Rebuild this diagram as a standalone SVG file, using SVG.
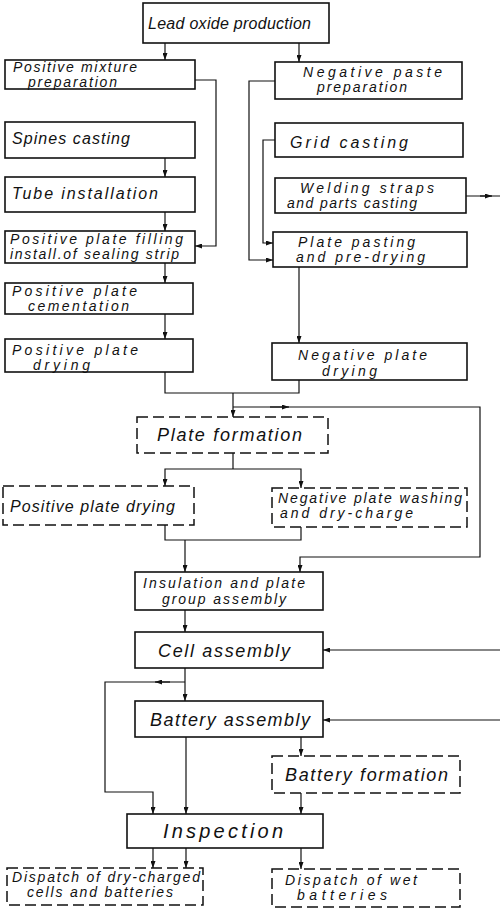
<svg xmlns="http://www.w3.org/2000/svg" width="500" height="909" viewBox="0 0 500 909">
<style>
.b{fill:#fff;stroke:#111;stroke-width:1.6}
.d{fill:#fff;stroke:#111;stroke-width:1.5;stroke-dasharray:11 5}
.c{fill:none;stroke:#111;stroke-width:1.2}
text{font-family:"Liberation Sans",Arial,sans-serif;font-style:italic;font-size:14px;fill:#111}
.s{font-size:16px}
.L{font-size:18px}
.X{font-size:20px}
</style>
<defs>
<marker id="a" viewBox="0 0 7 5" refX="7" refY="2.5" markerWidth="7" markerHeight="5" markerUnits="userSpaceOnUse" orient="auto"><path d="M0,0L7,2.5L0,5z" fill="#111"/></marker>
</defs>
<rect width="500" height="909" fill="#fff"/>
<g id="connectors">
<path class="c" marker-end="url(#a)" d="M165,43V60"/>
<path class="c" marker-end="url(#a)" d="M299,43V62"/>
<path class="c" marker-end="url(#a)" d="M195,80H216V246H195"/>
<path class="c" marker-end="url(#a)" d="M275,81H249V260H273"/>
<path class="c" marker-end="url(#a)" d="M275,140H263V243H273"/>
<path class="c" d="M466,196H500"/>
<path class="c" marker-end="url(#a)" d="M480,196H492"/>
<path class="c" marker-end="url(#a)" d="M165,158V177"/>
<path class="c" marker-end="url(#a)" d="M165,212V231"/>
<path class="c" marker-end="url(#a)" d="M165,263V283"/>
<path class="c" marker-end="url(#a)" d="M165,314V339"/>
<path class="c" marker-end="url(#a)" d="M299,267V343"/>
<path class="c" d="M165,372V393H299V380"/>
<path class="c" marker-end="url(#a)" d="M233,393V417"/>
<path class="c" marker-end="url(#a)" d="M233,407H480V557H300V572"/>
<path class="c" marker-end="url(#a)" d="M270,407H289"/>
<path class="c" d="M233,453V469"/>
<path class="c" marker-end="url(#a)" d="M233,469H165V486"/>
<path class="c" marker-end="url(#a)" d="M233,469H301V488"/>
<path class="c" d="M165,525V540H301V527"/>
<path class="c" marker-end="url(#a)" d="M185,540V572"/>
<path class="c" marker-end="url(#a)" d="M185,610V632"/>
<path class="c" marker-end="url(#a)" d="M185,668V701"/>
<path class="c" marker-end="url(#a)" d="M185,682H105V792H153V814"/>
<path class="c" marker-end="url(#a)" d="M170,682H155"/>
<path class="c" marker-end="url(#a)" d="M186,737V814"/>
<path class="c" marker-end="url(#a)" d="M301,737V756"/>
<path class="c" marker-end="url(#a)" d="M301,793V814"/>
<path class="c" marker-end="url(#a)" d="M500,650H323"/>
<path class="c" marker-end="url(#a)" d="M500,720H323"/>
<path class="c" marker-end="url(#a)" d="M153,848V868"/>
<path class="c" marker-end="url(#a)" d="M186,848V868"/>
<path class="c" marker-end="url(#a)" d="M301,848V869"/>
</g>
<g id="n1"><rect class="b" x="143" y="3" width="186" height="40"/><text class="s" x="148" y="29" textLength="163">Lead oxide production</text></g>
<g id="n2"><rect class="b" x="5" y="60" width="190" height="29"/><text x="13" y="72" textLength="124">Positive  mixture</text><text x="28" y="87" textLength="89">preparation</text></g>
<g id="n3"><rect class="b" x="275" y="62" width="187" height="37"/><text x="303" y="77" textLength="139">Negative  paste</text><text x="317" y="92" textLength="90">preparation</text></g>
<g id="n4"><rect class="b" x="5" y="122" width="190" height="36"/><text class="s" x="12" y="144" textLength="118">Spines  casting</text></g>
<g id="n5"><rect class="b" x="5" y="177" width="190" height="35"/><text class="s" x="12" y="199" textLength="146">Tube  installation</text></g>
<g id="n6"><rect class="b" x="275" y="123" width="188" height="34"/><text class="s" x="290" y="148" textLength="118">Grid  casting</text></g>
<g id="n7"><rect class="b" x="275" y="178" width="191" height="35"/><text x="300" y="193" textLength="134">Welding  straps</text><text x="287" y="208" textLength="130">and  parts  casting</text></g>
<g id="n8"><rect class="b" x="5" y="231" width="190" height="32"/><text x="10" y="244" textLength="173">Positive plate filling</text><text x="10" y="259" textLength="169">install.of sealing strip</text></g>
<g id="n9"><rect class="b" x="273" y="232" width="194" height="35"/><text x="298" y="247" textLength="117">Plate  pasting</text><text x="296" y="262" textLength="129">and  pre-drying</text></g>
<g id="n10"><rect class="b" x="5" y="283" width="188" height="31"/><text x="12" y="296" textLength="125">Positive   plate</text><text x="28" y="311" textLength="101">cementation</text></g>
<g id="n11"><rect class="b" x="5" y="339" width="188" height="33"/><text x="12" y="355" textLength="126">Positive   plate</text><text x="33" y="370" textLength="57">drying</text></g>
<g id="n12"><rect class="b" x="272" y="343" width="195" height="37"/><text x="298" y="360" textLength="129">Negative  plate</text><text x="322" y="376" textLength="55">drying</text></g>
<g id="n13"><rect class="d" x="137" y="417" width="191" height="36"/><text class="L" x="157" y="441" textLength="145">Plate  formation</text></g>
<g id="n14"><rect class="d" x="3" y="486" width="191" height="39"/><text class="s" x="10" y="512" textLength="165">Positive plate drying</text></g>
<g id="n15"><rect class="d" x="272" y="488" width="195" height="39"/><text x="278" y="503" textLength="184">Negative plate washing</text><text x="280" y="518" textLength="133">and  dry-charge</text></g>
<g id="n16"><rect class="b" x="135" y="572" width="188" height="38"/><text x="143" y="588" textLength="162">Insulation and plate</text><text x="162" y="604" textLength="124">group  assembly</text></g>
<g id="n17"><rect class="b" x="135" y="632" width="188" height="36"/><text class="L" x="158" y="657" textLength="132">Cell  assembly</text></g>
<g id="n18"><rect class="b" x="135" y="701" width="188" height="36"/><text class="L" x="150" y="726" textLength="160">Battery  assembly</text></g>
<g id="n19"><rect class="d" x="272" y="756" width="188" height="37"/><text class="L" x="285" y="781" textLength="163">Battery  formation</text></g>
<g id="n20"><rect class="b" x="127" y="814" width="196" height="34"/><text class="X" x="163" y="838" textLength="120">Inspection</text></g>
<g id="n21"><rect class="d" x="7" y="868" width="196" height="37"/><text x="12" y="882" textLength="188">Dispatch of dry-charged</text><text x="27" y="897" textLength="146">cells and batteries</text></g>
<g id="n22"><rect class="d" x="272" y="869" width="188" height="38"/><text x="285" y="885" textLength="132">Dispatch of wet</text><text x="297" y="900" textLength="90">batteries</text></g>
</svg>
